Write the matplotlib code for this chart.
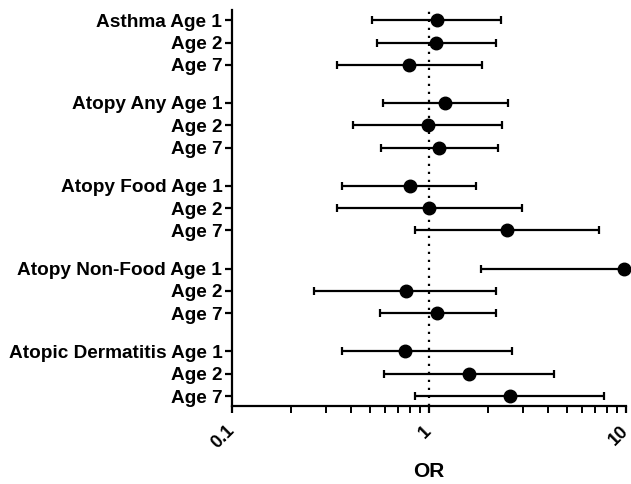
import numpy as np
import matplotlib.pyplot as plt
from matplotlib.ticker import LogLocator, NullFormatter, FixedLocator

plt.rcParams['font.family'] = ['Liberation Sans', 'DejaVu Sans']

# outcomes, three ages each
groups = ['Asthma', 'Atopy Any', 'Atopy Food', 'Atopy Non-Food', 'Atopic Dermatitis']
ages = ['Age 1', 'Age 2', 'Age 7']

odds_ratio = [1.10, 1.085, 0.79,
              1.21, 0.985, 1.13,
              0.80, 1.00, 2.49,
              9.83, 0.765, 1.10,
              0.753, 1.59, 2.57]
ci_low = [0.513, 0.542, 0.34,
          0.583, 0.412, 0.571,
          0.36, 0.34, 0.85,
          1.83, 0.26, 0.563,
          0.361, 0.592, 0.85]
ci_high = [2.33, 2.20, 1.86,
           2.52, 2.36, 2.25,
           1.74, 2.95, 7.32,
           40.0, 2.20, 2.20,
           2.64, 4.30, 7.76]

labels = []
ypos = []
for g, name in enumerate(groups):
    for r, age in enumerate(ages):
        labels.append(f'{name} {age}' if r == 0 else age)
        ypos.append(g * 3.7 + r)

ors = np.array(odds_ratio)
lo = np.array(ci_low)
hi = np.array(ci_high)

fig = plt.figure(figsize=(6.31, 4.84), dpi=100)
ax = fig.add_axes([0.3677, 0.161, 0.6243, 0.818])

ax.axvline(1, color='black', lw=1.6, ls=(0, (1, 2.6)), zorder=1)

ax.errorbar(ors, ypos, xerr=[ors - lo, hi - ors], fmt='none', ecolor='black',
            elinewidth=1.6, capsize=3.2, capthick=1.6, zorder=2)
ax.plot(ors, ypos, 'o', color='black', ms=9, zorder=3, clip_on=False)

ax.set_xscale('log')
ax.set_xlim(0.1, 10)
ax.set_ylim(ypos[-1] + 0.45, -0.45)

ax.xaxis.set_major_locator(FixedLocator([0.1, 1, 10]))
ax.set_xticklabels(['0.1', '1', '10'], rotation=45, fontsize=13, fontweight='bold',
                   ha='right', va='center', rotation_mode='anchor')
ax.xaxis.set_minor_locator(LogLocator(base=10, subs=np.arange(2, 10)))
ax.xaxis.set_minor_formatter(NullFormatter())

ax.set_yticks(ypos)
ax.set_yticklabels(labels, fontsize=13.7, fontweight='bold')

ax.set_xlabel('OR', fontsize=15, fontweight='bold')
ax.xaxis.set_label_coords(0.5, -0.14)

for side in ['top', 'right']:
    ax.spines[side].set_visible(False)
for side in ['left', 'bottom']:
    ax.spines[side].set_linewidth(1.6)

ax.tick_params(axis='y', length=5, width=1.6, pad=2)
ax.tick_params(axis='x', which='major', length=5, width=1.6, pad=11)
ax.tick_params(axis='x', which='minor', length=5, width=1.4)

fig.savefig('out.png', dpi=100)
